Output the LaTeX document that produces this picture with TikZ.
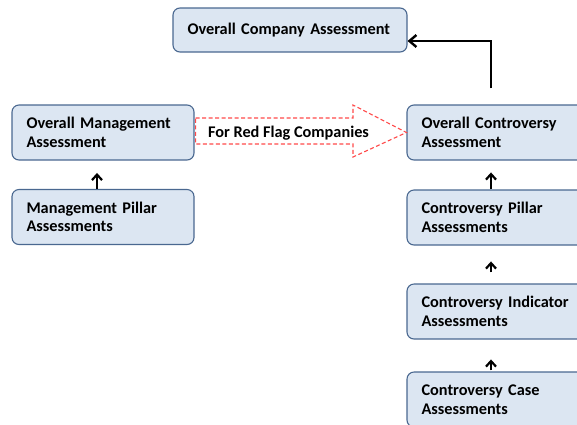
\documentclass[tikz,border=0pt]{standalone}
\usepackage{fontspec}
\setmainfont{Carlito}
\usetikzlibrary{arrows.meta,calc}

\definecolor{boxfill}{HTML}{DCE6F2}
\definecolor{boxline}{HTML}{4A6890}
\definecolor{flagred}{HTML}{FF4A4A}

\tikzset{
  assess/.style={draw=boxline, fill=boxfill, line width=1.1pt, rounded corners=7pt,
    minimum width=182pt, minimum height=55pt, text width=153pt, inner xsep=14.5pt,
    inner ysep=0pt, align=left, font=\fontsize{16.3}{18.5}\selectfont\bfseries},
  feed/.style={draw=black, line width=2.2pt,
    -{Straight Barb[length=5.5pt,width=10pt,line width=2.2pt]}},
  rollup/.style={draw=black, line width=2.5pt,
    -{Straight Barb[length=7pt,width=12pt,line width=2.4pt]}},
  flag/.style={draw=flagred, line width=1.1pt, dash pattern=on 4pt off 2.5pt},
  flaglabel/.style={font=\fontsize{16.3}{18.5}\selectfont\bfseries, inner sep=0pt}
}

\begin{document}
\begin{tikzpicture}[x=1pt, y=-1pt]
  \useasboundingbox (0,0) rectangle (577,424);
  \clip (0,0) rectangle (577,424);

  % assessment boxes
  \node[assess, minimum width=234pt, minimum height=44pt, text width=205pt]
    (company) at (290,30) {Overall Company Assessment};
  \node[assess] (mgmt)    at (103,132.5) {Overall Management\\Assessment};
  \node[assess] (mpillar) at (103,217)   {Management Pillar\\Assessments};
  \node[assess] (octrl)   at (498,132.5) {Overall Controversy\\Assessment};
  \node[assess] (cpillar) at (498,217.5) {Controversy Pillar\\Assessments};
  \node[assess] (cind)    at (498,311.5) {Controversy Indicator\\Assessments};
  \node[assess] (ccase)   at (498,399.5) {Controversy Case\\Assessments};

  % red-flag block arrow from management to controversy
  \coordinate (fs1) at ($(mgmt.east)+(1,-14.5)$);
  \coordinate (fs2) at ($(mgmt.east)+(1,11.5)$);
  \draw[flag] (fs1) -- (353,118) -- (353,105) -- (octrl.west) -- (353,157) -- (353,144) -- (fs2) -- cycle;
  \node[flaglabel] (flagtxt) at (288.5,133) {For Red Flag Companies};

  % roll-up of the controversy assessment into the company assessment
  \draw[rollup] ([xshift=-7pt,yshift=16pt]octrl.north) |- ([yshift=-11pt]company.east);

  % bottom-up feeds
  \draw[feed] ([xshift=-6pt]mpillar.north) -- ++(0,-16);
  \draw[feed] ([xshift=-7pt]cpillar.north) -- ++(0,-17);
  \draw[feed] ([xshift=-7pt,yshift=11pt]cind.north) -- ++(0,-11);
  \draw[feed] ([xshift=-7pt,yshift=1pt]ccase.north) -- ++(0,-11);
\end{tikzpicture}
\end{document}
